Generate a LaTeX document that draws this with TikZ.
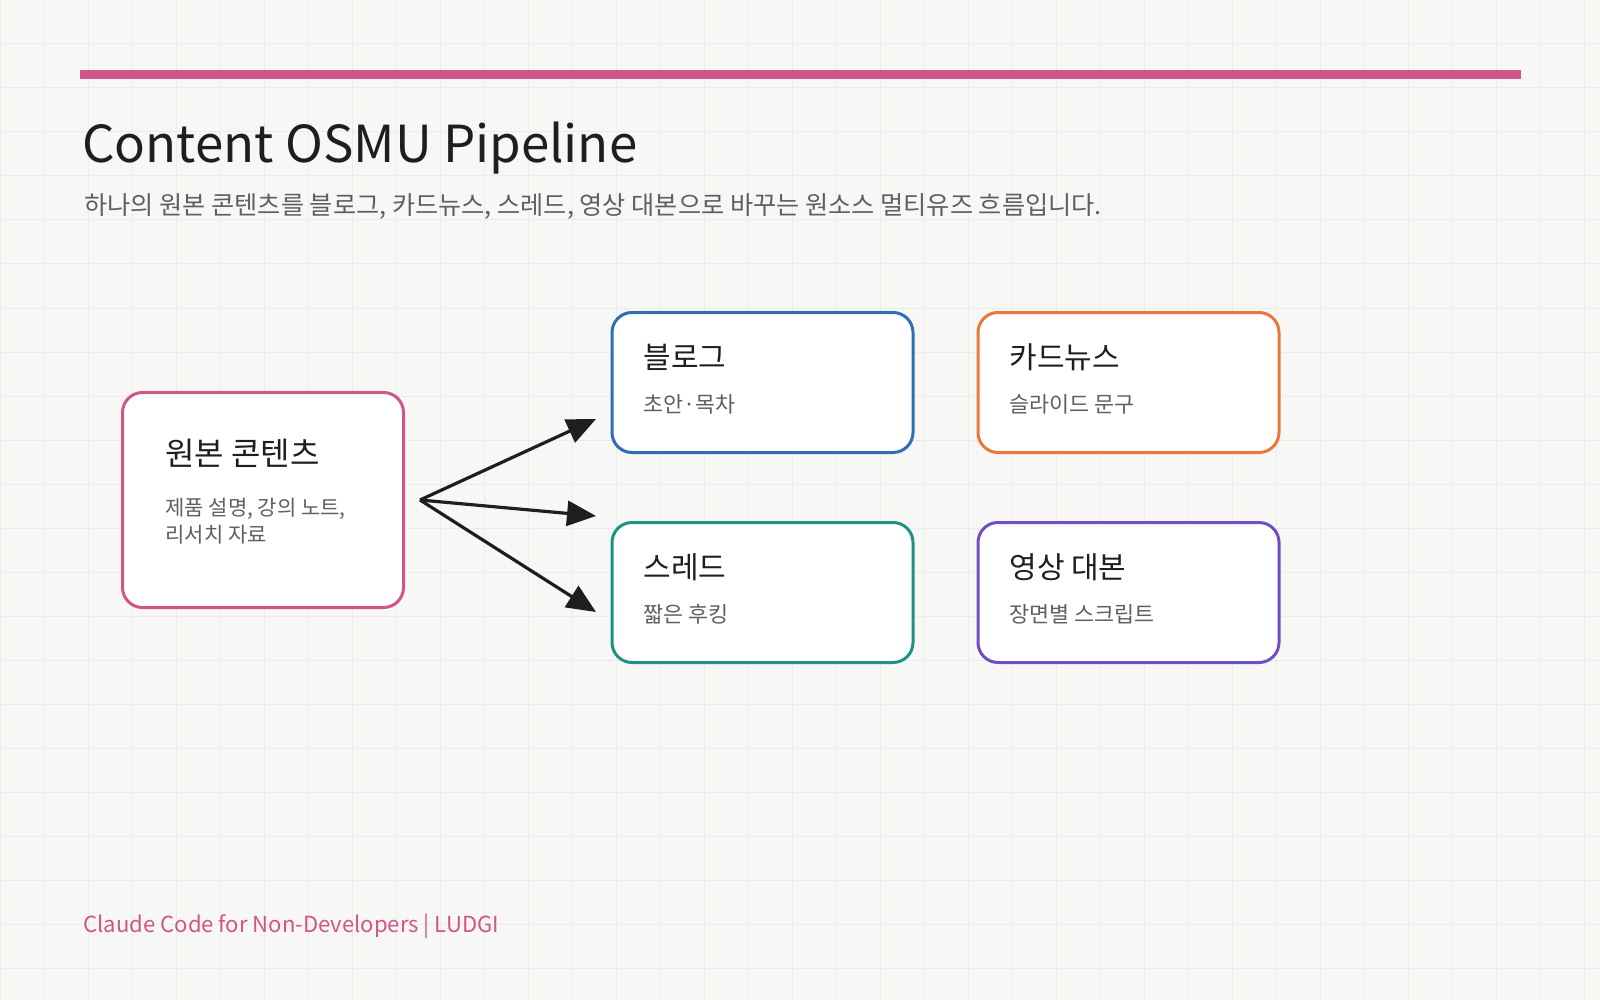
\documentclass[tikz,border=0pt]{standalone}
\usepackage{fontspec}
\setmainfont{Noto Sans CJK KR}
\usetikzlibrary{arrows.meta,positioning}
\definecolor{pagebg}{HTML}{F7F7F5}
\definecolor{gridink}{HTML}{ECECE8}
\definecolor{inkpink}{HTML}{D0558A}
\definecolor{inkblue}{HTML}{2F6DB8}
\definecolor{inkorange}{HTML}{E8793A}
\definecolor{inkteal}{HTML}{1E9384}
\definecolor{inkpurple}{HTML}{7050C0}
\definecolor{inkdark}{HTML}{1E1E22}
\definecolor{inkgrey}{HTML}{5C5F66}
\tikzset{card/.style={rectangle,rounded corners=10pt,draw,line width=1.5pt,fill=white,minimum width=150.5pt,minimum height=70pt,inner sep=0pt},cardhead/.style={anchor=west,inner sep=0pt,font=\fontsize{15pt}{18pt}\selectfont,text=inkdark},cardnote/.style={anchor=west,inner sep=0pt,font=\fontsize{10.9pt}{13.5pt}\selectfont,text=inkgrey},fan/.style={-{Triangle[length=14.5pt,width=12.5pt]},line width=1.6pt,draw=inkdark},gridline/.style={draw=gridink,line width=0.5pt}}

\begin{document}
\begin{tikzpicture}[x=0.5pt,y=-0.5pt]
\useasboundingbox (0,0) rectangle (1600,1000);
\fill[pagebg] (0,0) rectangle (1600,1000);
\foreach \g in {0,44,...,1600}{\draw[gridline] (\g,0)--(\g,1000);}
\foreach \g in {0,44,...,1000}{\draw[gridline] (0,\g)--(1600,\g);}
\fill[inkpink] (80,70) rectangle (1521,79);
\node[anchor=base west,inner sep=0pt,font=\fontsize{25.5pt}{30pt}\selectfont,text=inkdark] (title) at (82,163) {Content OSMU Pipeline};
\node[anchor=west,inner sep=0pt,font=\fontsize{12.6pt}{15pt}\selectfont,text=inkgrey] (subtitle) at (84,206) {하나의 원본 콘텐츠를 블로그, 카드뉴스, 스레드, 영상 대본으로 바꾸는 원소스 멀티유즈 흐름입니다.};
% source
\node[card,draw=inkpink,minimum width=140.5pt,minimum height=107.5pt] (source) at (263,500) {};
\node[cardhead,font=\fontsize{16pt}{19pt}\selectfont] (sourcehead) at (165,453) {원본 콘텐츠};
\node[cardnote,align=left,font=\fontsize{10.5pt}{13.5pt}\selectfont] (sourcenote) at (165,521) {제품 설명, 강의 노트,\\리서치 자료};
% outputs
\foreach \name/\x/\y/\col/\head/\note in {blog/762.5/382.5/inkblue/블로그/초안·목차,cardnews/1128.5/382.5/inkorange/카드뉴스/슬라이드 문구,thread/762.5/592.5/inkteal/스레드/짧은 후킹,video/1128.5/592.5/inkpurple/영상 대본/장면별 스크립트}{
\node[card,draw=\col] (\name) at (\x,\y) {};
\node[cardhead] (\name head) at (\x-119.5,\y-25) {\head};
\node[cardnote] (\name note) at (\x-119.5,\y+22) {\note};
}
\coordinate (fork) at (420,500);
\coordinate (tipa) at (596,419);
\coordinate (tipb) at (596,516);
\coordinate (tipc) at (596,612);
\foreach \t in {tipa,tipb,tipc}{\draw[fan] (fork)--(\t);}
\node[anchor=base west,inner sep=0pt,font=\fontsize{11.05pt}{14pt}\selectfont,text=inkpink] (footer) at (83,932) {Claude Code for Non-Developers | LUDGI};
\end{tikzpicture}
\end{document}
